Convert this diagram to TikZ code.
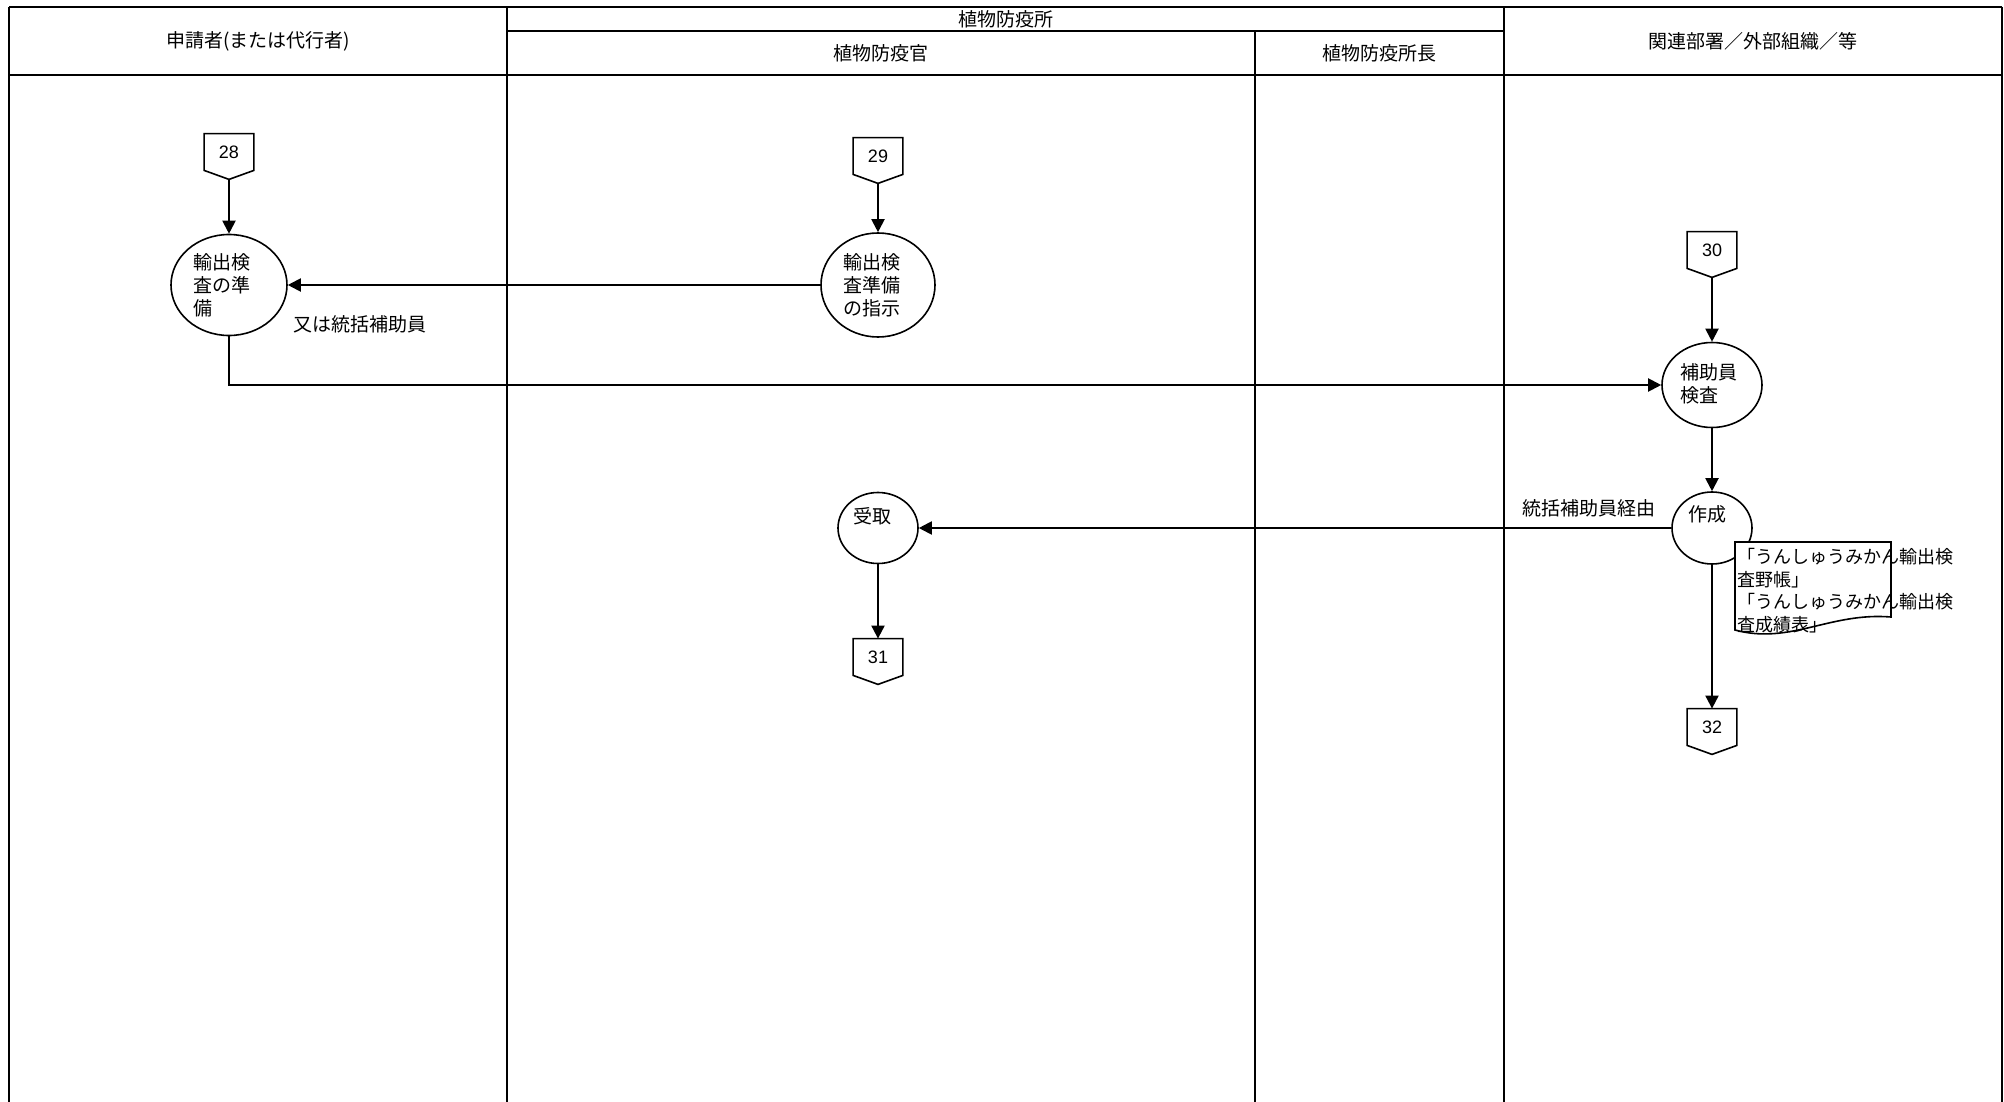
\documentclass[tikz,border=0pt]{standalone}
\usepackage{fontspec}
\setmainfont{Noto Sans CJK JP}
\newfontfamily\numfont{Liberation Sans}
\usetikzlibrary{shapes.geometric,arrows.meta,calc}
\begin{document}
\begin{tikzpicture}[x=0.5pt,y=-0.5pt,
 frame/.style={line width=1pt},
 hdr/.style={font=\fontsize{9.5pt}{11.5pt}\selectfont, inner sep=0pt},
 proc/.style={draw, ellipse, line width=0.8pt, inner sep=0pt, fill=white},
 ptxt/.style={font=\fontsize{9.5pt}{11.5pt}\selectfont, inner sep=0pt, anchor=north west, align=left},
 conn/.style={minimum width=24.5pt, minimum height=18pt, inner sep=0pt, font=\numfont\fontsize{9pt}{10pt}\selectfont},
 arr/.style={line width=1pt, -{Triangle[length=6.5pt,width=6.5pt]}},
 lbl/.style={font=\fontsize{9.5pt}{11.5pt}\selectfont, inner sep=0pt, anchor=west}]
\useasboundingbox (0,0) rectangle (2004,1102);
\fill[white] (0,0) rectangle (2004,1102);
% frame
\draw[frame] (9,7) -- (2002,7);
\draw[frame] (9,75) -- (2002,75);
\draw[frame] (507,31) -- (1504,31);
\draw[frame] (9,7) -- (9,1102);
\draw[frame] (507,7) -- (507,1102);
\draw[frame] (1255,31) -- (1255,1102);
\draw[frame] (1504,7) -- (1504,1102);
\draw[frame] (2002,7) -- (2002,1102);
% headers
\node[hdr] (h1) at (258,41) {申請者(または代行者)};
\node[hdr] (h2) at (1005.5,19) {植物防疫所};
\node[hdr] (h3) at (881,53) {植物防疫官};
\node[hdr] (h4) at (1379.5,53) {植物防疫所長};
\node[hdr] (h5) at (1753,41) {関連部署／外部組織／等};
% connectors
\node[conn] (c28) at (229,152) {28};
\node[conn] (c29) at (878,156) {29};
\node[conn] (c30) at (1712,250) {30};
\node[conn] (c31) at (878,657) {31};
\node[conn] (c32) at (1712,727) {32};
\foreach \c in {c28,c29,c30,c31,c32}{
  \draw[line width=0.8pt] (\c.north west) -- (\c.north east) -- (\c.south east) -- ([yshift=-4.5pt]\c.south) -- (\c.south west) -- cycle;
}
% processes
\node[proc, minimum width=58pt, minimum height=50.5pt] (e28) at (229,285) {};
\node[ptxt] (t28) at (193,253) {輸出検\\査の準\\備};
\node[proc, minimum width=57pt, minimum height=52pt] (e29) at (878,285) {};
\node[ptxt] (t29) at (843,253) {輸出検\\査準備\\の指示};
\node[proc, minimum width=50pt, minimum height=42.5pt] (e30) at (1712,385) {};
\node[ptxt] (t30) at (1680,363) {補助員\\検査};
\node[proc, minimum width=40pt, minimum height=36pt] (esk) at (1712,528) {};
\node[ptxt] (tsk) at (1688,505) {作成};
\node[proc, minimum width=40pt, minimum height=35.5pt] (euk) at (878,528) {};
\node[ptxt] (tuk) at (853,507) {受取};
% document
\draw[line width=0.8pt, fill=white] (1735,542) -- (1891,542) -- (1891,617) .. controls (1830,612) and (1790,645) .. (1735,630) -- cycle;
\node[ptxt, font=\fontsize{9pt}{11.25pt}\selectfont] (doct) at (1737,548) {「うんしゅうみかん輸出検\\査野帳」\\「うんしゅうみかん輸出検\\査成績表」};
% labels
\node[lbl] (l1) at (293,324) {又は統括補助員};
\node[lbl] (l2) at (1522,508) {統括補助員経由};
% arrows
\draw[arr] ([yshift=-4.5pt]c28.south) -- (e28.north);
\draw[arr] ([yshift=-4.5pt]c29.south) -- (e29.north);
\draw[arr] ([yshift=-4.5pt]c30.south) -- (e30.north);
\draw[arr] (e29.west) -- (e28.east);
\draw[arr] (e28.south) |- (e30.west);
\draw[arr] (e30.south) -- (esk.north);
\draw[arr] (esk.west) -- (euk.east);
\draw[arr] (esk.south) -- (c32.north);
\draw[arr] (euk.south) -- (c31.north);
\end{tikzpicture}
\end{document}
